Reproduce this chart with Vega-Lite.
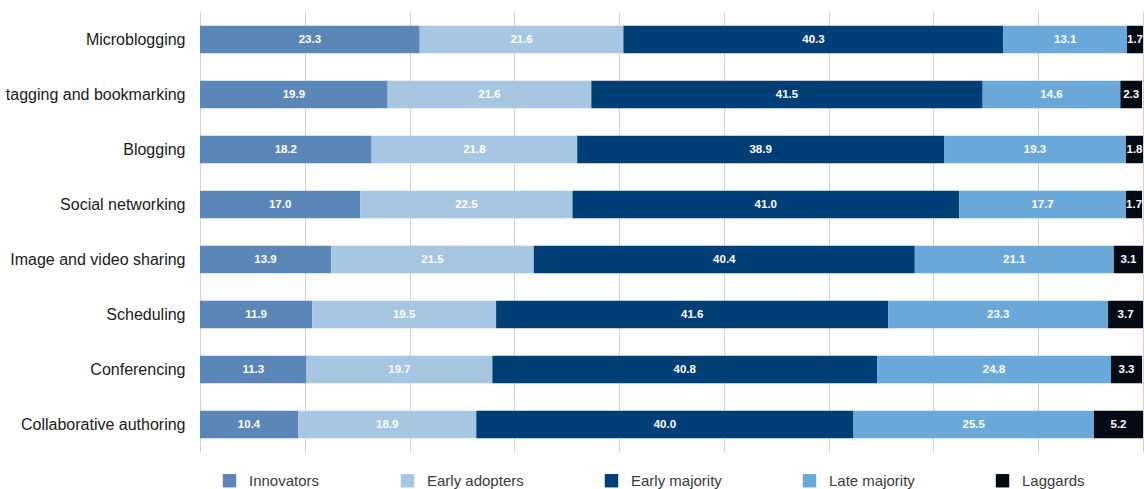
{
  "$schema": "https://vega.github.io/schema/vega-lite/v6.json",
  "width": 943,
  "height": 440,
  "autosize": "none",
  "padding": {"left": 200, "top": 12, "right": 1, "bottom": 37},
  "background": "white",
  "config": {"view": {"stroke": null}, "font": "Liberation Sans"},
  "data": {"values": [
    {"category": "Microblogging", "segment": "Innovators", "order": 1, "value": 23.3},
    {"category": "Microblogging", "segment": "Early adopters", "order": 2, "value": 21.6},
    {"category": "Microblogging", "segment": "Early majority", "order": 3, "value": 40.3},
    {"category": "Microblogging", "segment": "Late majority", "order": 4, "value": 13.1},
    {"category": "Microblogging", "segment": "Laggards", "order": 5, "value": 1.7},
    {"category": "tagging and bookmarking", "segment": "Innovators", "order": 1, "value": 19.9},
    {"category": "tagging and bookmarking", "segment": "Early adopters", "order": 2, "value": 21.6},
    {"category": "tagging and bookmarking", "segment": "Early majority", "order": 3, "value": 41.5},
    {"category": "tagging and bookmarking", "segment": "Late majority", "order": 4, "value": 14.6},
    {"category": "tagging and bookmarking", "segment": "Laggards", "order": 5, "value": 2.3},
    {"category": "Blogging", "segment": "Innovators", "order": 1, "value": 18.2},
    {"category": "Blogging", "segment": "Early adopters", "order": 2, "value": 21.8},
    {"category": "Blogging", "segment": "Early majority", "order": 3, "value": 38.9},
    {"category": "Blogging", "segment": "Late majority", "order": 4, "value": 19.3},
    {"category": "Blogging", "segment": "Laggards", "order": 5, "value": 1.8},
    {"category": "Social networking", "segment": "Innovators", "order": 1, "value": 17.0},
    {"category": "Social networking", "segment": "Early adopters", "order": 2, "value": 22.5},
    {"category": "Social networking", "segment": "Early majority", "order": 3, "value": 41.0},
    {"category": "Social networking", "segment": "Late majority", "order": 4, "value": 17.7},
    {"category": "Social networking", "segment": "Laggards", "order": 5, "value": 1.7},
    {"category": "Image and video sharing", "segment": "Innovators", "order": 1, "value": 13.9},
    {"category": "Image and video sharing", "segment": "Early adopters", "order": 2, "value": 21.5},
    {"category": "Image and video sharing", "segment": "Early majority", "order": 3, "value": 40.4},
    {"category": "Image and video sharing", "segment": "Late majority", "order": 4, "value": 21.1},
    {"category": "Image and video sharing", "segment": "Laggards", "order": 5, "value": 3.1},
    {"category": "Scheduling", "segment": "Innovators", "order": 1, "value": 11.9},
    {"category": "Scheduling", "segment": "Early adopters", "order": 2, "value": 19.5},
    {"category": "Scheduling", "segment": "Early majority", "order": 3, "value": 41.6},
    {"category": "Scheduling", "segment": "Late majority", "order": 4, "value": 23.3},
    {"category": "Scheduling", "segment": "Laggards", "order": 5, "value": 3.7},
    {"category": "Conferencing", "segment": "Innovators", "order": 1, "value": 11.3},
    {"category": "Conferencing", "segment": "Early adopters", "order": 2, "value": 19.7},
    {"category": "Conferencing", "segment": "Early majority", "order": 3, "value": 40.8},
    {"category": "Conferencing", "segment": "Late majority", "order": 4, "value": 24.8},
    {"category": "Conferencing", "segment": "Laggards", "order": 5, "value": 3.3},
    {"category": "Collaborative authoring", "segment": "Innovators", "order": 1, "value": 10.4},
    {"category": "Collaborative authoring", "segment": "Early adopters", "order": 2, "value": 18.9},
    {"category": "Collaborative authoring", "segment": "Early majority", "order": 3, "value": 40.0},
    {"category": "Collaborative authoring", "segment": "Late majority", "order": 4, "value": 25.5},
    {"category": "Collaborative authoring", "segment": "Laggards", "order": 5, "value": 5.2}
  ]},
  "transform": [
    {"stack": "value", "groupby": ["category"], "sort": [{"field": "order", "order": "ascending"}], "as": ["v0", "v1"]},
    {"calculate": "(datum.v0 + datum.v1) / 2", "as": "mid"}
  ],
  "encoding": {
    "y": {
      "field": "category",
      "type": "nominal",
      "sort": ["Microblogging", "tagging and bookmarking", "Blogging", "Social networking", "Image and video sharing", "Scheduling", "Conferencing", "Collaborative authoring"],
      "scale": {"paddingInner": 0.5, "paddingOuter": 0.25},
      "axis": {"title": null, "domain": false, "ticks": false, "labelFontSize": 16, "labelColor": "#1a1a1a", "labelPadding": 15, "labelLimit": 250}
    }
  },
  "layer": [
    {
      "mark": {"type": "bar"},
      "encoding": {
        "x": {
          "field": "v0",
          "type": "quantitative",
          "scale": {"domain": [0, 100], "nice": false, "zero": true},
          "axis": {"title": null, "labels": false, "ticks": false, "domain": false, "grid": true, "gridColor": "#d9cfcb", "gridWidth": 1, "values": [0, 11.111, 22.222, 33.333, 44.444, 55.556, 66.667, 77.778, 88.889, 100]}
        },
        "x2": {"field": "v1"},
        "color": {
          "field": "segment",
          "type": "nominal",
          "scale": {
            "domain": ["Innovators", "Early adopters", "Early majority", "Late majority", "Laggards"],
            "range": ["#5b86b8", "#a6c6e1", "#003e78", "#6ba8da", "#020a14"]
          },
          "legend": {
            "title": null,
            "orient": "none",
            "legendX": 22,
            "legendY": 461,
            "direction": "horizontal",
            "symbolType": "square",
            "symbolSize": 180,
            "symbolStrokeWidth": 0,
            "labelFontSize": 15,
            "labelColor": "#3a3a3a",
            "labelOffset": 12,
            "columnPadding": 80
          }
        }
      }
    },
    {
      "mark": {"type": "text", "color": "white", "fontWeight": "bold", "fontSize": 11.5, "align": "center", "baseline": "middle"},
      "encoding": {
        "x": {
          "field": "mid",
          "type": "quantitative",
          "axis": {"title": null, "labels": false, "ticks": false, "domain": false, "grid": true, "gridColor": "#d9cfcb", "gridWidth": 1, "values": [0, 11.111, 22.222, 33.333, 44.444, 55.556, 66.667, 77.778, 88.889, 100]}
        },
        "text": {"field": "value", "type": "quantitative", "format": ".1f"}
      }
    }
  ]
}
